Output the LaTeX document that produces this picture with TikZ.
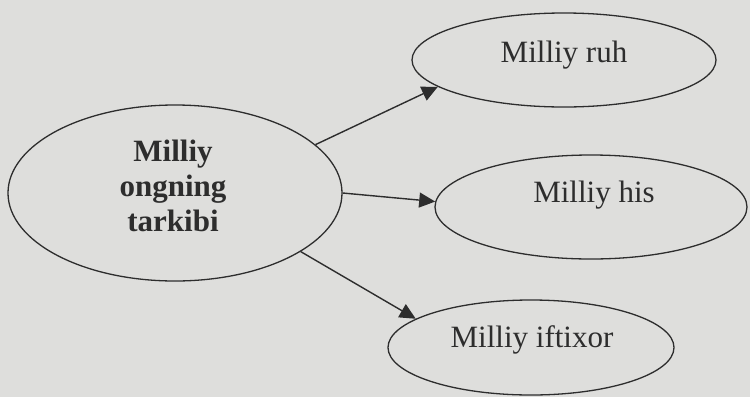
\documentclass[tikz,border=0pt]{standalone}
\usepackage{fontspec}
\setmainfont{Liberation Serif}
\usetikzlibrary{shapes.geometric,arrows.meta}
\definecolor{paper}{RGB}{222,222,220}
\definecolor{ink}{RGB}{45,45,45}
\begin{document}
\begin{tikzpicture}[x=1pt,y=-1pt,
  oval/.style={ellipse,draw=ink,line width=1.3pt,inner sep=0pt},
  lbl/.style={text=ink,font=\fontsize{31}{35}\selectfont,inner sep=0pt,anchor=base},
  conn/.style={draw=ink,line width=1.4pt,-{Triangle[length=16pt,width=15pt]}}]
\fill[paper] (0,0) rectangle (750,397);
\useasboundingbox (0,0) rectangle (750,397);
\node[oval,minimum width=334pt,minimum height=176pt] (L) at (175,193) {};
\node[oval,minimum width=304pt,minimum height=94pt] (A) at (564,60) {};
\node[oval,minimum width=312pt,minimum height=104pt] (B) at (591,207) {};
\node[oval,minimum width=286pt,minimum height=95pt] (C) at (531,347.5) {};
\node[text=ink,font=\fontsize{31}{35}\selectfont\bfseries,align=center,inner sep=0pt] (Lt) at (173,186) {Milliy\\ongning\\tarkibi};
\node[lbl] (At) at (564,62) {Milliy ruh};
\node[lbl] (Bt) at (594,202) {Milliy his};
\node[lbl] (Ct) at (532,347) {Milliy iftixor};
\draw[conn] (L.19.7) -- (A.192);
\draw[conn] (L.0) -- (B.178);
\draw[conn] (L.-25) -- (C.166);
\end{tikzpicture}
\end{document}
